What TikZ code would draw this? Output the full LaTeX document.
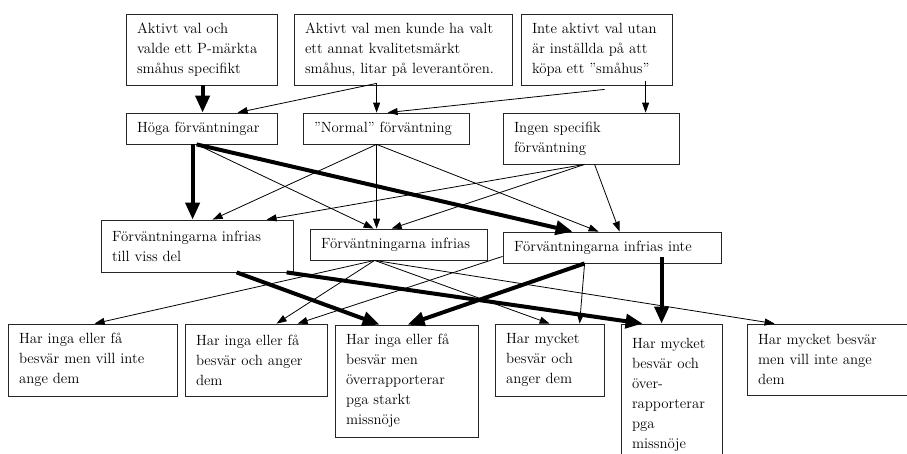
\documentclass[tikz,border=0pt]{standalone}
\usepackage{fontspec}
\usetikzlibrary{arrows.meta}
\hfuzz=100pt
\hbadness=10000
\begin{document}
\begin{tikzpicture}[x=1pt,y=-1pt,
  box/.style={draw=black!85, line width=0.8pt, rectangle, align=left,
    inner xsep=11pt, inner ysep=0pt, font=\fontsize{14.8}{20}\selectfont},
  conn/.style={line width=0.8pt, -{Triangle[length=10pt,width=7pt]}},
  thickconn/.style={line width=4pt, -{Triangle[length=17pt,width=14pt]}}]
\fill[white] (0,0) rectangle (907,453);
\useasboundingbox (0,0) rectangle (907,453);
% top row
\node[box, text width=129pt, minimum width=151pt, minimum height=71pt] (T1) at (201.5,49.5)
  {Aktivt val och\\valde ett P-märkta\\småhus specifikt};
\node[box, text width=196pt, minimum width=218pt, minimum height=71pt] (T2) at (403,49.5)
  {Aktivt val men kunde ha valt\\ett annat kvalitetsmärkt\\småhus, litar på leverantören.};
\node[box, text width=129pt, minimum width=151pt, minimum height=71pt] (T3) at (596.5,49.5)
  {Inte aktivt val utan\\är inställda på att\\köpa ett ”småhus”};
% second row
\node[box, text width=129pt, minimum width=151pt, minimum height=31pt] (H) at (201.5,128.5)
  {Höga förväntningar};
\node[box, text width=144pt, minimum width=166pt, minimum height=31pt] (N) at (386,128.5)
  {”Normal” förväntning};
\node[box, text width=154pt, minimum width=176pt, minimum height=51pt] (I) at (591,138.5)
  {Ingen specifik\\förväntning};
% third row
\node[box, text width=170pt, minimum width=192pt, minimum height=52pt] (A) at (197,246)
  {Förväntningarna infrias\\till viss del};
\node[box, text width=155pt, minimum width=177pt, minimum height=31pt] (B) at (398.5,244.5)
  {Förväntningarna infrias};
\node[box, text width=196pt, minimum width=218pt, minimum height=31pt] (C) at (612,247.5)
  {Förväntningarna infrias inte};
% bottom row
\node[box, text width=147pt, minimum width=169pt, minimum height=72pt] (D1) at (92.5,360)
  {Har inga eller få\\besvär men vill inte\\ange dem};
\node[box, text width=120pt, minimum width=142pt, minimum height=72pt] (D2) at (256,360)
  {Har inga eller få\\besvär och anger\\dem};
\node[box, text width=121pt, minimum width=143pt, minimum height=112pt] (D3) at (406.5,381)
  {Har inga eller få\\besvär men\\överrapporterar\\pga starkt\\missnöje};
\node[box, text width=87pt, minimum width=109pt, minimum height=72pt] (D4) at (549.5,360)
  {Har mycket\\besvär och\\anger dem};
\node[box, text width=79pt, minimum width=101pt, minimum height=141pt] (D5) at (671.5,394.5)
  {Har mycket\\besvär och\\över-\\rapporterar\\pga\\missnöje};
\node[box, text width=151pt, minimum width=173pt, minimum height=71pt] (D6) at (833.5,359.5)
  {Har mycket besvär\\men vill inte ange\\dem};
% top -> second row
\draw[thickconn] ([xshift=77pt]T1.south west) -- ([xshift=77pt]H.north west);
\draw[conn] ([xshift=83pt,yshift=2pt]T2.south west) -- ([xshift=112pt]H.north west);
\draw[conn] ([xshift=83pt,yshift=2pt]T2.south west) -- ([xshift=74pt]N.north west);
\draw[conn] ([xshift=84pt,yshift=-4pt]T3.south west) -- ([xshift=85pt]N.north west);
\draw[conn] ([xshift=125pt,yshift=4pt]T3.south west) -- ([xshift=143pt]I.north west);
% second -> third row
\draw[thickconn] ([xshift=67pt]H.south west) -- ([xshift=92pt]A.north west);
\draw[conn] ([xshift=71pt]H.south west) -- ([xshift=64pt]B.north west);
\draw[thickconn] ([xshift=71pt]H.south west) -- ([xshift=70pt]C.north west);
\draw[conn] ([xshift=74pt]N.south west) -- ([xshift=112pt]A.north west);
\draw[conn] ([xshift=74pt]N.south west) -- ([xshift=67pt]B.north west);
\draw[conn] ([xshift=74pt]N.south west) -- ([xshift=96pt]C.north west);
\draw[conn] ([xshift=82pt]I.south west) -- ([xshift=166pt]A.north west);
\draw[conn] ([xshift=82pt]I.south west) -- ([xshift=82pt]B.north west);
\draw[conn] ([xshift=92pt]I.south west) -- ([xshift=117pt]C.north west);
% third -> bottom row
\draw[conn] ([xshift=65pt]B.south west) -- ([xshift=87pt]D1.north west);
\draw[conn] ([xshift=65pt]B.south west) -- ([xshift=92pt]D2.north west);
\draw[conn] ([xshift=65pt]B.south west) -- ([xshift=55pt]D4.north west);
\draw[conn] ([xshift=65pt]B.south west) -- ([xshift=28pt]D6.north west);
\draw[thickconn] ([xshift=136pt]A.south west) -- ([xshift=45pt]D3.north west);
\draw[thickconn] ([xshift=186pt]A.south west) -- ([xshift=22pt]D5.north west);
\draw[conn] ([yshift=7pt]C.south west) -- ([xshift=113pt]D2.north west);
\draw[thickconn] ([xshift=82pt]C.south west) -- ([xshift=73pt]D3.north west);
\draw[conn] ([xshift=82pt]C.south west) -- ([xshift=85pt]D4.north west);
\draw[thickconn] ([xshift=159pt,yshift=6pt]C.south west) -- ([xshift=41pt]D5.north west);
\end{tikzpicture}
\end{document}
